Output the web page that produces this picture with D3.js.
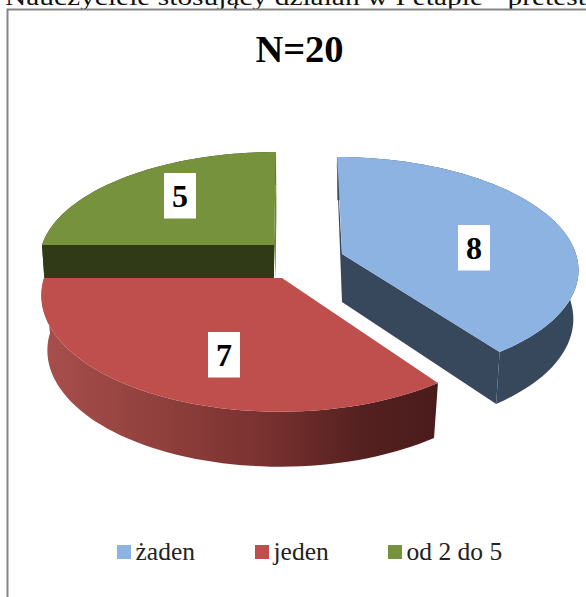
<!DOCTYPE html>
<html><head><meta charset="utf-8">
<script src="https://cdn.jsdelivr.net/npm/d3@7"></script>
<style>html,body{margin:0;padding:0;background:#fff;overflow:hidden}svg{display:block}</style>
</head><body><div id="c"></div>
<script>
const categories = ["żaden", "jeden", "od 2 do 5"];
const values = [8, 7, 5];
const colors = ["#8DB3E2", "#BE4F4C", "#76923C"];
const wallColors = ["#38485C", "#7A3230", "#303A17"];
const titleText = "N=20";
const clippedLine = "Nauczyciele stosujący działań w I etapie - pretest";

const W = 586, H = 597;
// perspective layout of each exploded slice
const geo = [
  {ax:342, ay:254, c:234, a:109, b:.124, k:5.3,  depth:48, dz:.1, s:.978, lab:[474,248]},
  {ax:282, ay:278, c:238, a:115, b:.14,  k:-2,   depth:55, dz:0,  s:.975, lab:[224,355]},
  {ax:274, ay:245, c:232, a:106, b:.14,  k:-2.3, depth:33, dz:0,  s:.99,  lab:[180,196]}
];
const svg = d3.select("#c").append("svg").attr("width", W).attr("height", H);
const serif = "'Liberation Serif', serif";

const defs = svg.append("defs");
const grad = defs.append("linearGradient").attr("id","redWall")
  .attr("gradientUnits","userSpaceOnUse").attr("x1",42).attr("x2",438).attr("y1",0).attr("y2",0);
[[0,"#A84F4C"],[.25,"#94423F"],[.55,"#7A3230"],[.8,"#552120"],[1,"#4A1B1B"]]
  .forEach(s=>grad.append("stop").attr("offset",s[0]).attr("stop-color",s[1]));

svg.append("text").attr("x",5).attr("y",5).attr("textLength",581).attr("lengthAdjust","spacingAndGlyphs")
  .attr("font-family",serif).attr("font-size",23).attr("fill","#111").text(clippedLine);

svg.append("path").attr("d",`M586,9.5H7.5V${H}`).attr("fill","none").attr("stroke","#868686").attr("stroke-width",2);

svg.append("text").attr("x",299.5).attr("y",62).attr("text-anchor","middle")
  .attr("font-family",serif).attr("font-weight","bold").attr("font-size",38.5).attr("fill","#000").text(titleText);

const pie = d3.pie().sort(null)(values);
const color = d3.scaleOrdinal(categories, colors);
const line = d3.line();
const project = (g, th, bottom=false) => {
  const X = Math.sin(th), Z = -Math.cos(th), w = 1 - g.b*Z, s = bottom ? g.s : 1;
  return [g.ax + s*(g.c*X + g.k*Z)/w, g.ay + g.a*Z/w + (bottom ? g.depth*(1+g.dz*Z) : 0)];
};
const apex = (g, bottom=false) => [g.ax, g.ay + (bottom?g.depth:0)];
const arcPts = (g, a0, a1, bottom) => d3.range(0,61).map(i=>project(g, a0+(a1-a0)*i/60, bottom));

const drawOrder = [2,0,1];
drawOrder.forEach(i=>{
  const d = pie[i], g = geo[i], n = svg.append("g");
  const wallFill = i===1 ? "url(#redWall)" : wallColors[i];
  const top = arcPts(g,d.startAngle,d.endAngle,false), bot = arcPts(g,d.startAngle,d.endAngle,true);
  n.append("path").attr("d",line(top.concat(bot.slice().reverse()))+"Z").attr("fill",wallFill);
  if(i===0){
    n.append("path").attr("d",line([apex(g),project(g,d.endAngle),project(g,d.endAngle,true),apex(g,true)])+"Z").attr("fill",wallFill);
    const t = project(g,0);
    n.append("path").attr("d",line([[t[0]-.8,t[1]],apex(g),apex(g,true)])+"Z").attr("fill",wallFill);
  }
  if(i===2){
    const l = project(g,d.startAngle), lb = project(g,d.startAngle,true);
    n.append("path").attr("d",line([l,apex(g),apex(g,true),lb])+"Z").attr("fill",wallFill);
    const t = project(g,d.endAngle);
    n.append("path").attr("d",line([t,[t[0]+.4,t[1]+60],[g.ax+1.5,g.ay+g.depth],[g.ax,g.ay]])+"Z").attr("fill","#6C8634");
  }
  n.append("path").attr("d",line([apex(g)].concat(top))+"Z").attr("fill",color(categories[i]));
});

// data labels
geo.forEach((g,i)=>{
  const n = svg.append("g");
  n.append("rect").attr("x",g.lab[0]-16).attr("y",g.lab[1]-23).attr("width",32).attr("height",45.5).attr("fill","#fff");
  n.append("text").attr("x",g.lab[0]).attr("y",g.lab[1]+11).attr("text-anchor","middle")
    .attr("font-family",serif).attr("font-weight","bold").attr("font-size",32).attr("fill","#000").text(values[i]);
});

// legend
const legendX = [117, 255, 388];
categories.forEach((c,i)=>{
  svg.append("rect").attr("x",legendX[i]).attr("y",545).attr("width",14).attr("height",14).attr("fill",color(c));
  svg.append("text").attr("x",legendX[i]+18.5).attr("y",559.5)
    .attr("font-family",serif).attr("font-size",25.5).attr("fill","#222").text(c);
});
</script></body></html>
